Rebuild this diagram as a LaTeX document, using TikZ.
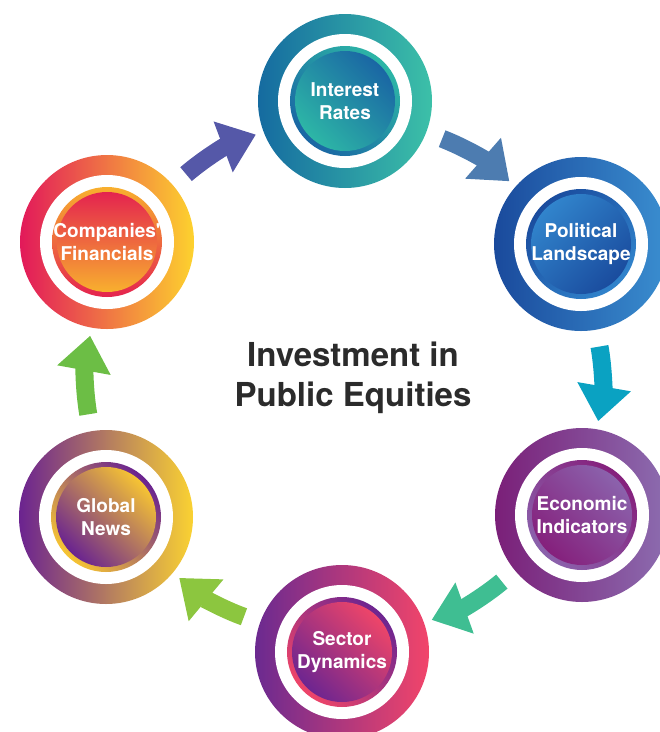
\documentclass[tikz,border=0pt]{standalone}
\usepackage{fontspec}
\setmainfont{TeX Gyre Heros}
\usetikzlibrary{arrows.meta}

\definecolor{ratesL}{HTML}{156BA0}
\definecolor{ratesR}{HTML}{3CC0A8}
\definecolor{ratesA}{HTML}{1A66A4}
\definecolor{ratesB}{HTML}{2DB6A6}
\definecolor{polL}{HTML}{1A4A9C}
\definecolor{polR}{HTML}{3A8ED0}
\definecolor{polA}{HTML}{3184CC}
\definecolor{polB}{HTML}{1A4C9E}
\definecolor{ecoL}{HTML}{7A1F78}
\definecolor{ecoR}{HTML}{8C6DB0}
\definecolor{ecoA}{HTML}{8B62AC}
\definecolor{ecoB}{HTML}{85207C}
\definecolor{secL}{HTML}{6B2A90}
\definecolor{secR}{HTML}{F2456A}
\definecolor{secA}{HTML}{EE4569}
\definecolor{secB}{HTML}{6D2590}
\definecolor{globL}{HTML}{6B2390}
\definecolor{globR}{HTML}{FAD232}
\definecolor{globA}{HTML}{F6C433}
\definecolor{globB}{HTML}{6A2390}
\definecolor{finL}{HTML}{E2195A}
\definecolor{finR}{HTML}{FDD22E}
\definecolor{finA}{HTML}{E4234F}
\definecolor{finB}{HTML}{F8B02E}
\definecolor{arrA}{HTML}{5558A8}
\definecolor{arrB}{HTML}{4D7CB0}
\definecolor{arrC}{HTML}{0AA2C2}
\definecolor{arrD}{HTML}{3FBE92}
\definecolor{arrE}{HTML}{8CC63F}
\definecolor{arrF}{HTML}{6CBE45}
\definecolor{titlegray}{HTML}{2B2B2B}

\tikzset{
  bubble/.style n args={5}{circle, minimum size=174pt, inner sep=0pt,
    left color=#1, right color=#2, text=white, align=center,
    font=\bfseries\fontsize{19}{23}\selectfont,
    path picture={
      \fill[white] (path picture bounding box.center) circle (67pt);
      \shade[top color=#4, bottom color=#3, shading angle=#5]
        (path picture bounding box.center) circle (55pt);
      \shade[top color=#3, bottom color=#4, shading angle=#5]
        (path picture bounding box.center) circle (50pt);
    }},
  flow/.style={line width=18pt, draw=#1, -{Triangle[width=52pt,length=35pt]},
    shorten <=17pt, shorten >=8pt, bend left=10},
  title/.style={text=titlegray, align=center, inner sep=0pt,
    font=\bfseries\fontsize{33}{40}\selectfont}
}

\begin{document}
\begin{tikzpicture}[x=1pt,y=-1pt]
  \useasboundingbox (0,0) rectangle (660,732);

  % the six factors
  \node[bubble={ratesL}{ratesR}{ratesA}{ratesB}{-45}] (rates) at (345,101) {Interest\\Rates};
  \node[bubble={polL}{polR}{polA}{polB}{45}] (pol) at (581,244) {Political\\Landscape};
  \node[bubble={ecoL}{ecoR}{ecoA}{ecoB}{-45}] (eco) at (582,515) {Economic\\Indicators};
  \node[bubble={secL}{secR}{secA}{secB}{-45}] (sec) at (342,652) {Sector\\Dynamics};
  \node[bubble={globL}{globR}{globA}{globB}{-45}] (glob) at (106,517) {Global\\News};
  \node[bubble={finL}{finR}{finA}{finB}{0}] (fin) at (107,242) {Companies\textquotesingle\\Financials};

  \node[title] (ttl) at (353,378) {Investment in\\Public Equities};

  % cycle
  \draw[flow=arrA] (fin) to (rates);
  \draw[flow=arrB] (rates) to (pol);
  \draw[flow=arrC] (pol) to (eco);
  \draw[flow=arrD] (eco) to (sec);
  \draw[flow=arrE] (sec) to (glob);
  \draw[flow=arrF] (glob) to (fin);
\end{tikzpicture}
\end{document}
